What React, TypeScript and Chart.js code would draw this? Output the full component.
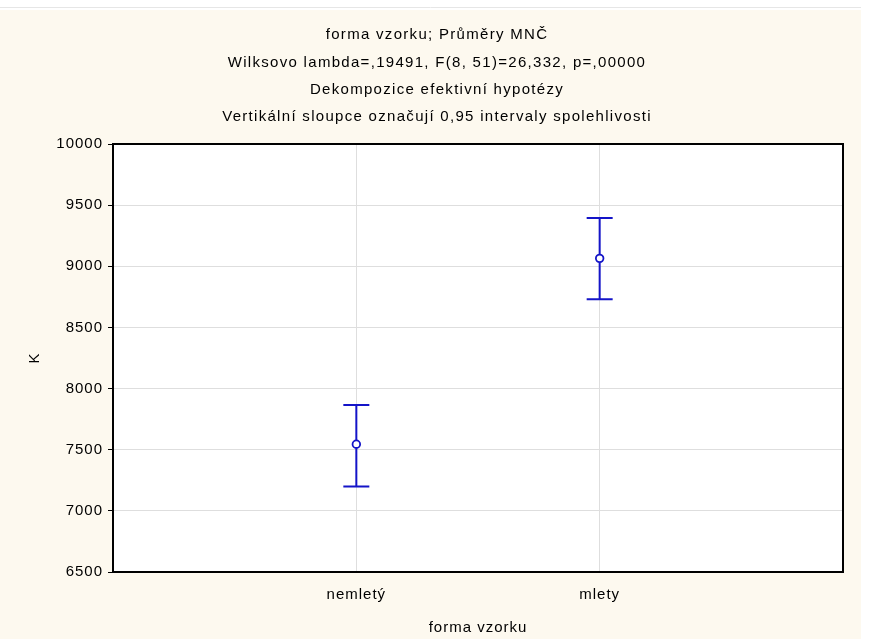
import React, { useEffect, useRef } from "react";
import { Chart, registerables } from "chart.js";

Chart.register(...registerables);

const categories = ["nemletý", "mlety"];
const means = [7545, 9065];
const lower = [7200, 8730];
const upper = [7865, 9395];
const yTicks = [6500, 7000, 7500, 8000, 8500, 9000, 9500, 10000];
const titleLines = [
  "forma vzorku; Průměry MNČ",
  "Wilksovo lambda=,19491, F(8, 51)=26,332, p=,00000",
  "Dekompozice efektivní hypotézy",
  "Vertikální sloupce označují 0,95 intervaly spolehlivosti",
];
const xTitle = "forma vzorku";
const yTitle = "K";

const FONT = "'Liberation Sans', Arial, sans-serif";
const BLUE = "#1414c8";

const bgPlugin = {
  id: "bgPlugin",
  beforeDraw(chart: any) {
    const { ctx, width, height, chartArea } = chart;
    ctx.save();
    ctx.fillStyle = "#ffffff";
    ctx.fillRect(0, 0, width, height);
    ctx.fillStyle = "#fdf9ef";
    ctx.fillRect(0, 10, 861, height - 10);
    ctx.strokeStyle = "#e6e6e6";
    ctx.lineWidth = 1;
    ctx.beginPath();
    ctx.moveTo(0, 7.5);
    ctx.lineTo(861, 7.5);
    ctx.stroke();
    ctx.fillStyle = "#ffffff";
    ctx.fillRect(chartArea.left, chartArea.top, chartArea.right - chartArea.left, chartArea.bottom - chartArea.top);
    // titles
    ctx.fillStyle = "#000";
    ctx.font = `15px ${FONT}`;
    (ctx as any).letterSpacing = "1.3px";
    ctx.textAlign = "center";
    ctx.textBaseline = "middle";
    titleLines.forEach((t, i) => {
      ctx.fillText(t, 437, 35 + i * 27.4);
    });
    ctx.restore();
    (ctx as any).letterSpacing = "1px";
  },
  afterDatasetsDraw(chart: any) {
    const { ctx } = chart;
    const xs = chart.scales.x;
    const ys = chart.scales.y;
    ctx.save();
    ctx.strokeStyle = BLUE;
    ctx.lineWidth = 2;
    means.forEach((m, i) => {
      const x = xs.getPixelForValue(i + 1);
      const yl = ys.getPixelForValue(lower[i]);
      const yu = ys.getPixelForValue(upper[i]);
      const ym = ys.getPixelForValue(m);
      ctx.beginPath();
      ctx.moveTo(x, yu);
      ctx.lineTo(x, ym - 4);
      ctx.moveTo(x, ym + 4);
      ctx.lineTo(x, yl);
      ctx.moveTo(x - 13, yu);
      ctx.lineTo(x + 13, yu);
      ctx.moveTo(x - 13, yl);
      ctx.lineTo(x + 13, yl);
      ctx.stroke();
    });
    ctx.restore();
  },
  afterDraw(chart: any) {
    const { ctx, chartArea } = chart;
    ctx.save();
    ctx.strokeStyle = "#000";
    ctx.lineWidth = 2;
    ctx.strokeRect(chartArea.left, chartArea.top, chartArea.right - chartArea.left, chartArea.bottom - chartArea.top);
    ctx.restore();
  },
};

export default function App() {
  const ref = useRef<HTMLCanvasElement | null>(null);
  useEffect(() => {
    document.body.style.margin = "0";
    const canvas = ref.current!;
    const chart = new Chart(canvas, {
      type: "scatter",
      data: {
        datasets: [
          {
            data: means.map((m, i) => ({ x: i + 1, y: m })),
            borderColor: BLUE,
            backgroundColor: "#ffffff",
            pointRadius: 3.8,
            pointBorderWidth: 1.8,
            showLine: false,
          },
        ],
      },
      options: {
        animation: false,
        responsive: false,
        devicePixelRatio: 1,
        layout: { padding: { top: 144, right: 35, left: 0, bottom: 0 } },
        plugins: { legend: { display: false }, tooltip: { enabled: false }, title: { display: false } },
        scales: {
          x: {
            type: "linear",
            min: 0,
            max: categories.length + 1,
            afterBuildTicks(scale: any) {
              scale.ticks = [0, 1, 2, 3].map((v) => ({ value: v }));
            },
            afterFit(scale: any) {
              scale.height = 67;
            },
            ticks: {
              padding: 14,
              color: "#000",
              font: { family: FONT, size: 15 },
              callback: (v: any) => categories[Number(v) - 1] ?? "",
              maxRotation: 0,
              autoSkip: false,
            },
            grid: {
              drawTicks: false,
              color: (c: any) => (c.tick && (c.tick.value === 1 || c.tick.value === 2) ? "#dedede" : "rgba(0,0,0,0)"),
            },
            border: { display: false },
            title: { display: true, text: xTitle, color: "#000", font: { family: FONT, size: 15 }, padding: { top: 0, bottom: 2 } },
          },
          y: {
            min: 6500,
            max: 10000,
            afterBuildTicks(scale: any) {
              scale.ticks = yTicks.map((v) => ({ value: v }));
            },
            afterFit(scale: any) {
              scale.width = 113;
            },
            ticks: {
              padding: 5,
              color: "#000",
              font: { family: FONT, size: 15 },
              callback: (v: any) => String(v),
            },
            grid: { color: "#dedede", tickColor: "#000", tickLength: 5 },
            border: { display: false },
            title: { display: true, text: yTitle, color: "#000", font: { family: FONT, size: 15 }, padding: { top: 26, bottom: 0 } },
          },
        },
      },
      plugins: [bgPlugin],
    } as any);
    return () => chart.destroy();
  }, []);
  return <canvas ref={ref} width={878} height={639} style={{ display: "block" }} />;
}
